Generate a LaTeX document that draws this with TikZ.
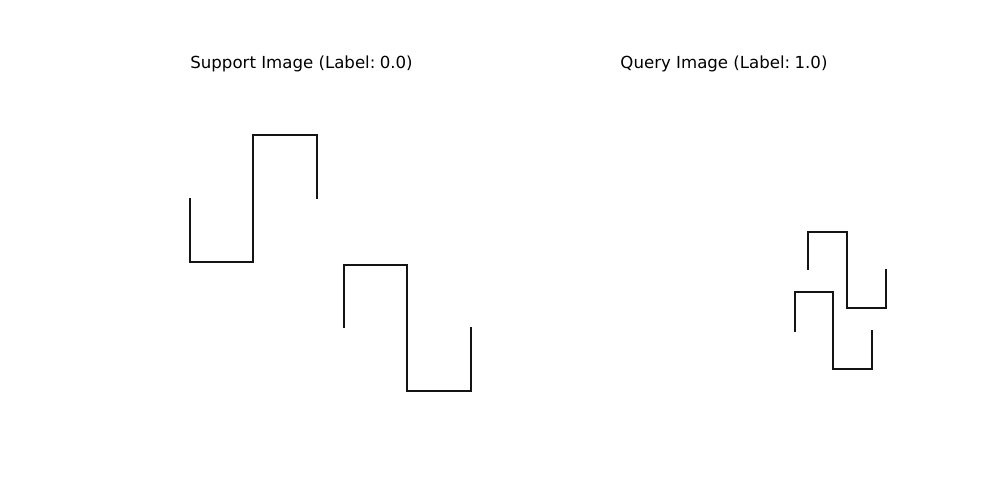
\documentclass[tikz,border=0pt]{standalone}
\usepackage{fontspec}
\setmainfont{DejaVu Sans}
\usetikzlibrary{positioning}
\definecolor{strokeBlack}{gray}{0.08}
\definecolor{titleBlack}{gray}{0.0}

\begin{document}
\begin{tikzpicture}[x=0.02cm, y=-0.02cm]
    \useasboundingbox (0,0) rectangle (1000,500);
    \tikzset{
        figtitle/.style={anchor=base, font=\fontsize{9.45pt}{11pt}\selectfont, text=titleBlack, inner sep=0pt},
        stroke/.style={line width=1.6pt, strokeBlack, line join=miter}
    }

    % Titles
    \node[figtitle] (supportTitle) at (301.5, 68.5) {Support Image (Label:\hspace{0.26em}0.0)};
    \node[figtitle] (queryTitle) at (724, 68.5) {Query Image (Label:\hspace{0.26em}1.0)};

    % Support shapes
    \draw[stroke] (190,198) -- (190,262) -- (253,262) -- (253,135) -- (317,135) -- (317,199);
    \draw[stroke] (344,328) -- (344,265) -- (407,265) -- (407,391) -- (471,391) -- (471,327);

    % Query shapes
    \draw[stroke] (808,270) -- (808,232) -- (847,232) -- (847,308) -- (886,308) -- (886,269);
    \draw[stroke] (795,332) -- (795,292) -- (833,292) -- (833,369) -- (872,369) -- (872,330);
\end{tikzpicture}
\end{document}
